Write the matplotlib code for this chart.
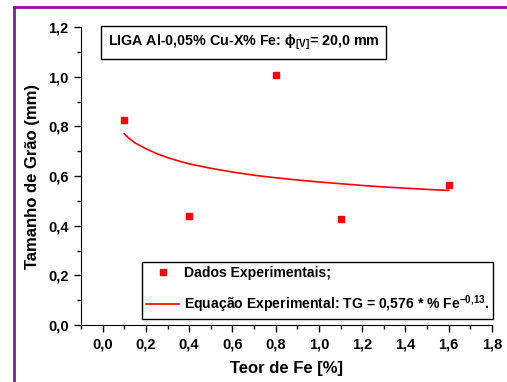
import numpy as np
import matplotlib
matplotlib.use("Agg")
import matplotlib.pyplot as plt
from matplotlib.lines import Line2D
from matplotlib.ticker import FuncFormatter, MultipleLocator

plt.rcParams['font.family'] = ['Liberation Sans', 'DejaVu Sans']
plt.rcParams['font.weight'] = 'bold'
plt.rcParams['mathtext.fontset'] = 'custom'
plt.rcParams['mathtext.rm'] = 'Liberation Sans:bold'
plt.rcParams['mathtext.it'] = 'Liberation Sans:bold'
plt.rcParams['mathtext.bf'] = 'Liberation Sans:bold'

# experimental points
fe_pct = [0.1, 0.4, 0.8, 1.1, 1.6]
grain_mm = [0.825, 0.44, 1.005, 0.425, 0.565]

# fitted curve, values
fit_x = [0.1, 0.12, 0.15, 0.2, 0.25, 0.3, 0.35, 0.4, 0.5, 0.6, 0.7, 0.8,
         0.9, 1.0, 1.1, 1.2, 1.3, 1.4, 1.5, 1.6]
fit_y = [0.770, 0.753, 0.733, 0.710, 0.690, 0.674, 0.661, 0.649, 0.631, 0.616,
         0.603, 0.593, 0.584, 0.576, 0.569, 0.562, 0.556, 0.551, 0.546, 0.542]

fig = plt.figure(figsize=(5.07, 3.82), dpi=100)
ax = fig.add_axes([0.1598, 0.1492, 0.8106, 0.7801])

ax.plot(fe_pct, grain_mm, 's', color='#ff0000', markersize=5, linestyle='none',
        label='Dados Experimentais;')
ax.plot(fit_x, fit_y, '-', color='#ff0000', linewidth=1.2,
        label='Equação Experimental: TG = 0,576 * % Fe$^{\\mathrm{-0{,}13}}$.')

ax.set_xlim(-0.1, 1.8)
ax.set_ylim(0, 1.2)
ax.xaxis.set_major_locator(MultipleLocator(0.2))
ax.xaxis.set_minor_locator(MultipleLocator(0.1))
ax.yaxis.set_major_locator(MultipleLocator(0.2))
ax.yaxis.set_minor_locator(MultipleLocator(0.1))
fmt = FuncFormatter(lambda v, p: f"{v:.1f}".replace('.', ','))
ax.xaxis.set_major_formatter(fmt)
ax.yaxis.set_major_formatter(fmt)
ax.tick_params(which='major', length=5, width=1, labelsize=10.5, pad=4)
ax.tick_params(which='minor', length=3, width=1)
for lbl in ax.get_xticklabels() + ax.get_yticklabels():
    lbl.set_fontweight('bold')

ax.spines['top'].set_visible(False)
ax.spines['right'].set_visible(False)
ax.set_xlabel('Teor de Fe [%]', fontsize=12, fontweight='bold', labelpad=7)
ax.set_ylabel('Tamanho de Grão (mm)', fontsize=12, fontweight='bold', labelpad=6)

ax.text(0.395, 0.948, 'LIGA Al-0,05% Cu-X% Fe: ϕ$_{[V]}$= 20,0 mm',
        transform=ax.transAxes, ha='center', va='center', fontsize=10.3,
        fontweight='bold',
        bbox=dict(boxstyle='square,pad=0.45', facecolor='white', edgecolor='black', linewidth=1))

leg = ax.legend(loc='lower right', bbox_to_anchor=(1.003, 0.02), borderaxespad=0,
                fancybox=False, edgecolor='black', framealpha=1, handlelength=2.4,
                handletextpad=0.3, prop={'size': 10.1, 'weight': 'bold'},
                labelspacing=0.95, borderpad=0.3)
leg.get_frame().set_linewidth(1)

# purple page frame
purple = '#8b1a8b'
fig.add_artist(Line2D([14 / 507, 14 / 507], [0, 1 - 7 / 382], color=purple, linewidth=2))
fig.add_artist(Line2D([14 / 507, 1], [1 - 7 / 382, 1 - 7 / 382], color=purple, linewidth=2))

fig.savefig('out.png', dpi=100)
